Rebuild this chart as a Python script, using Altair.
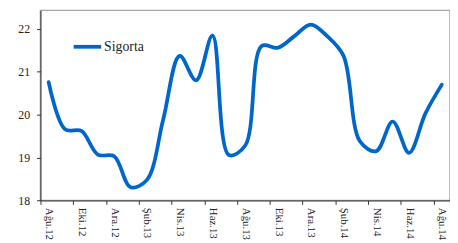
import altair as alt
import pandas as pd

months = ["Ağu.12", "Eyl.12", "Eki.12", "Kas.12", "Ara.12", "Oca.13", "Şub.13",
          "Mar.13", "Nis.13", "May.13", "Haz.13", "Tem.13", "Ağu.13", "Eyl.13",
          "Eki.13", "Kas.13", "Ara.13", "Oca.14", "Şub.14", "Mar.14", "Nis.14",
          "May.14", "Haz.14", "Tem.14", "Ağu.14"]
sigorta = [20.76, 19.66, 19.62, 19.07, 19.03, 18.31, 18.48,
           19.9, 21.37, 20.8, 21.84, 19.06, 19.28, 21.6,
           21.56, 21.83, 22.1, 21.83, 21.37, 19.38, 19.15,
           19.84, 19.11, 20.03, 20.7]
tick_labels = ["Ağu.12", "Eki.12", "Ara.12", "Şub.13", "Nis.13", "Haz.13", "Ağu.13",
               "Eki.13", "Ara.13", "Şub.14", "Nis.14", "Haz.14", "Ağu.14"]
series_name = "Sigorta"

df = pd.DataFrame({
    "i": list(range(len(months))),
    "month": months,
    "value": sigorta,
    "series": [series_name] * len(months),
})

lab_arr = "[" + ",".join("'" + t + "'" for t in tick_labels) + "]"
tick_vals = [k - 0.5 for k in range(0, len(months), 2)]

FONT = "Liberation Serif, Times New Roman, DejaVu Serif, serif"

chart = alt.Chart(df).mark_line(
    interpolate="catmull-rom", strokeWidth=3.8, strokeCap="round"
).encode(
    x=alt.X("i:Q",
            scale=alt.Scale(domain=[-0.5, 24.5], nice=False, zero=False),
            axis=alt.Axis(values=tick_vals, title=None, grid=False,
                          labelExpr=lab_arr + "[round((datum.value + 0.5) / 2)]",
                          labelAngle=90, labelAlign="left", labelBaseline="middle",
                          labelOffset=8.3, labelPadding=3, tickSize=4,
                          labelFont=FONT, labelFontSize=11, labelColor="#222",
                          domainColor="#333", tickColor="#333", labelOverlap=False)),
    y=alt.Y("value:Q",
            scale=alt.Scale(domain=[18, 22.43], nice=False, zero=False),
            axis=alt.Axis(values=[18, 19, 20, 21, 22], title=None, grid=False,
                          labelFont=FONT, labelFontSize=12, labelColor="#222",
                          labelPadding=7, tickSize=4,
                          domainColor="#333", tickColor="#333")),
    color=alt.Color("series:N",
                    scale=alt.Scale(range=["#0066CC"]),
                    legend=alt.Legend(title=None, orient="none", legendX=31.7, legendY=21,
                                      symbolType="stroke", symbolSize=784,
                                      symbolStrokeWidth=3.8, labelOffset=1,
                                      labelFont=FONT, labelFontSize=14, labelColor="#222",
                                      padding=0)),
).properties(
    width=416.3, height=193.2,
    padding={"left": 33, "top": 0.5, "right": 0, "bottom": 40},
    autosize=alt.AutoSizeParams(type="none"),
).configure_view(
    stroke="#a6a6a6", strokeWidth=1.5
)

chart.save("out.html", embed_options={"renderer": "svg", "actions": False})
